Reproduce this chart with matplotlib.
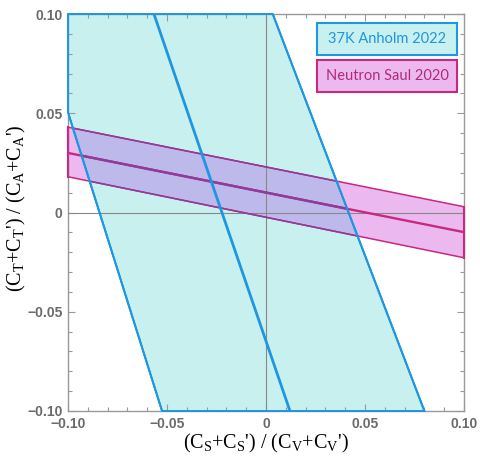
import matplotlib
matplotlib.use('Agg')
from matplotlib import pyplot as plt
from matplotlib.patches import Polygon
import numpy as np

# blue band (37K): boundary lines as (x, y) end points
blue_left = [(-0.1, 0.0504), (-0.0525, -0.1)]
blue_mid = [(-0.0566, 0.1), (0.0121, -0.1)]
blue_right = [(0.0034, 0.1), (0.080, -0.1)]
blue_poly = [(-0.1, 0.1), (0.0034, 0.1), (0.080, -0.1), (-0.0525, -0.1), (-0.1, 0.0504)]

# magenta band (neutron): y values at x=-0.1 and x=0.1
mag_x = [-0.1, 0.1]
mag_upper = [0.043, 0.0029]
mag_mid = [0.030, -0.0099]
mag_lower = [0.018, -0.0228]

legend_labels = ['37K Anholm 2022', 'Neutron Saul 2020']

c_blue_fill = '#c8f0ee'
c_blue_edge = '#1e96e0'
c_pink_fill = '#ebb9f0'
c_pink_edge = '#c8287f'
c_overlap = '#beb9eb'
c_overlap_edge = '#8c3c9c'

plt.rcParams['mathtext.fontset'] = 'custom'
plt.rcParams['mathtext.rm'] = 'Liberation Serif'
plt.rcParams['mathtext.it'] = 'Liberation Serif:italic'

fig = plt.figure(figsize=(4.8, 4.58), dpi=100)
ax = fig.add_axes([68/480, 47/458, 396/480, 397/458])

bpatch = Polygon(blue_poly, closed=True, facecolor=c_blue_fill, edgecolor='none', zorder=1)
ax.add_patch(bpatch)

pink_poly = list(zip(mag_x, mag_upper)) + list(zip(mag_x[::-1], mag_lower[::-1]))
ax.add_patch(Polygon(pink_poly, closed=True, facecolor=c_pink_fill, edgecolor='none', zorder=2))

# overlap of the two bands
ov = Polygon(pink_poly, closed=True, facecolor=c_overlap, edgecolor='none', zorder=3)
ax.add_patch(ov)
ov.set_clip_path(bpatch)

for ys, lw in [(mag_upper, 1.1), (mag_mid, 1.7), (mag_lower, 1.1)]:
    ax.plot(mag_x, ys, color=c_pink_edge, lw=lw, zorder=4, solid_capstyle='butt')
    l2, = ax.plot(mag_x, ys, color=c_overlap_edge, lw=lw, zorder=5, solid_capstyle='butt')
    l2.set_clip_path(bpatch)
ax.plot([-0.1, -0.1], [mag_lower[0], mag_upper[0]], color=c_pink_edge, lw=1.5, zorder=4, clip_on=False)
ax.plot([0.1, 0.1], [mag_lower[1], mag_upper[1]], color=c_pink_edge, lw=1.5, zorder=4, clip_on=False)

ax.add_patch(Polygon(blue_poly, closed=True, facecolor='none', edgecolor=c_blue_edge, lw=1.4, zorder=6, clip_on=False))
for seg, lw in [(blue_left, 1.4), (blue_mid, 2.0), (blue_right, 1.4)]:
    xs, ys = zip(*seg)
    ax.plot(xs, ys, color=c_blue_edge, lw=lw, zorder=6)

ax.axhline(0, color='#888888', lw=0.8, zorder=3.5)
ax.axvline(0, color='#888888', lw=0.8, zorder=3.5)

ax.set_xlim(-0.1, 0.1)
ax.set_ylim(-0.1, 0.1)
ticks = [-0.1, -0.05, 0, 0.05, 0.1]
tlabels = ['\u22120.10', '\u22120.05', '0', '0.05', '0.10']
ax.set_xticks(ticks)
ax.set_xticklabels(tlabels, fontweight='bold', family='Liberation Sans')
ax.set_yticks(ticks)
ax.set_yticklabels(tlabels, fontweight='bold', family='Liberation Sans')
ax.set_xticks(np.arange(-0.1, 0.1001, 0.01), minor=True)
ax.set_yticks(np.arange(-0.1, 0.1001, 0.01), minor=True)
ax.tick_params(which='both', direction='in', top=True, right=True, color='#999999', width=0.8)
ax.tick_params(which='major', length=5, labelsize=10, labelcolor='#6a6a6a', pad=4)
ax.tick_params(which='minor', length=3)
ax.tick_params(top=True, right=True, labeltop=False, labelright=False)
for sp in ax.spines.values():
    sp.set_color('#999999')
    sp.set_linewidth(1.0)

ax.set_xlabel(r"(C$_\mathrm{S}$+C$_\mathrm{S}$') / (C$_\mathrm{V}$+C$_\mathrm{V}$')",
              fontsize=14.5, family='Liberation Serif', labelpad=1)
ax.set_ylabel(r"(C$_\mathrm{T}$+C$_\mathrm{T}$') / (C$_\mathrm{A}$+C$_\mathrm{A}$')",
              fontsize=14.5, family='Liberation Serif')
ax.yaxis.set_label_coords(-0.10, 0.51)

# legend boxes
box_props = [(c_blue_fill, c_blue_edge, c_blue_edge), (c_pink_fill, c_pink_edge, '#b4287a')]
for i, (lab, (fc, ec, tc)) in enumerate(zip(legend_labels, box_props)):
    fig.patches.append(plt.Rectangle((317/480, 1 - (55 + i*37)/458), 140/480, 32/458,
                                     transform=fig.transFigure, facecolor=fc, edgecolor=ec, lw=1.5))
    fig.text(387/480, 1 - (39 + i*37)/458, lab, color=tc, fontsize=10.5, family='Lato',
             ha='center', va='center')

plt.savefig('out.png', dpi=100)
